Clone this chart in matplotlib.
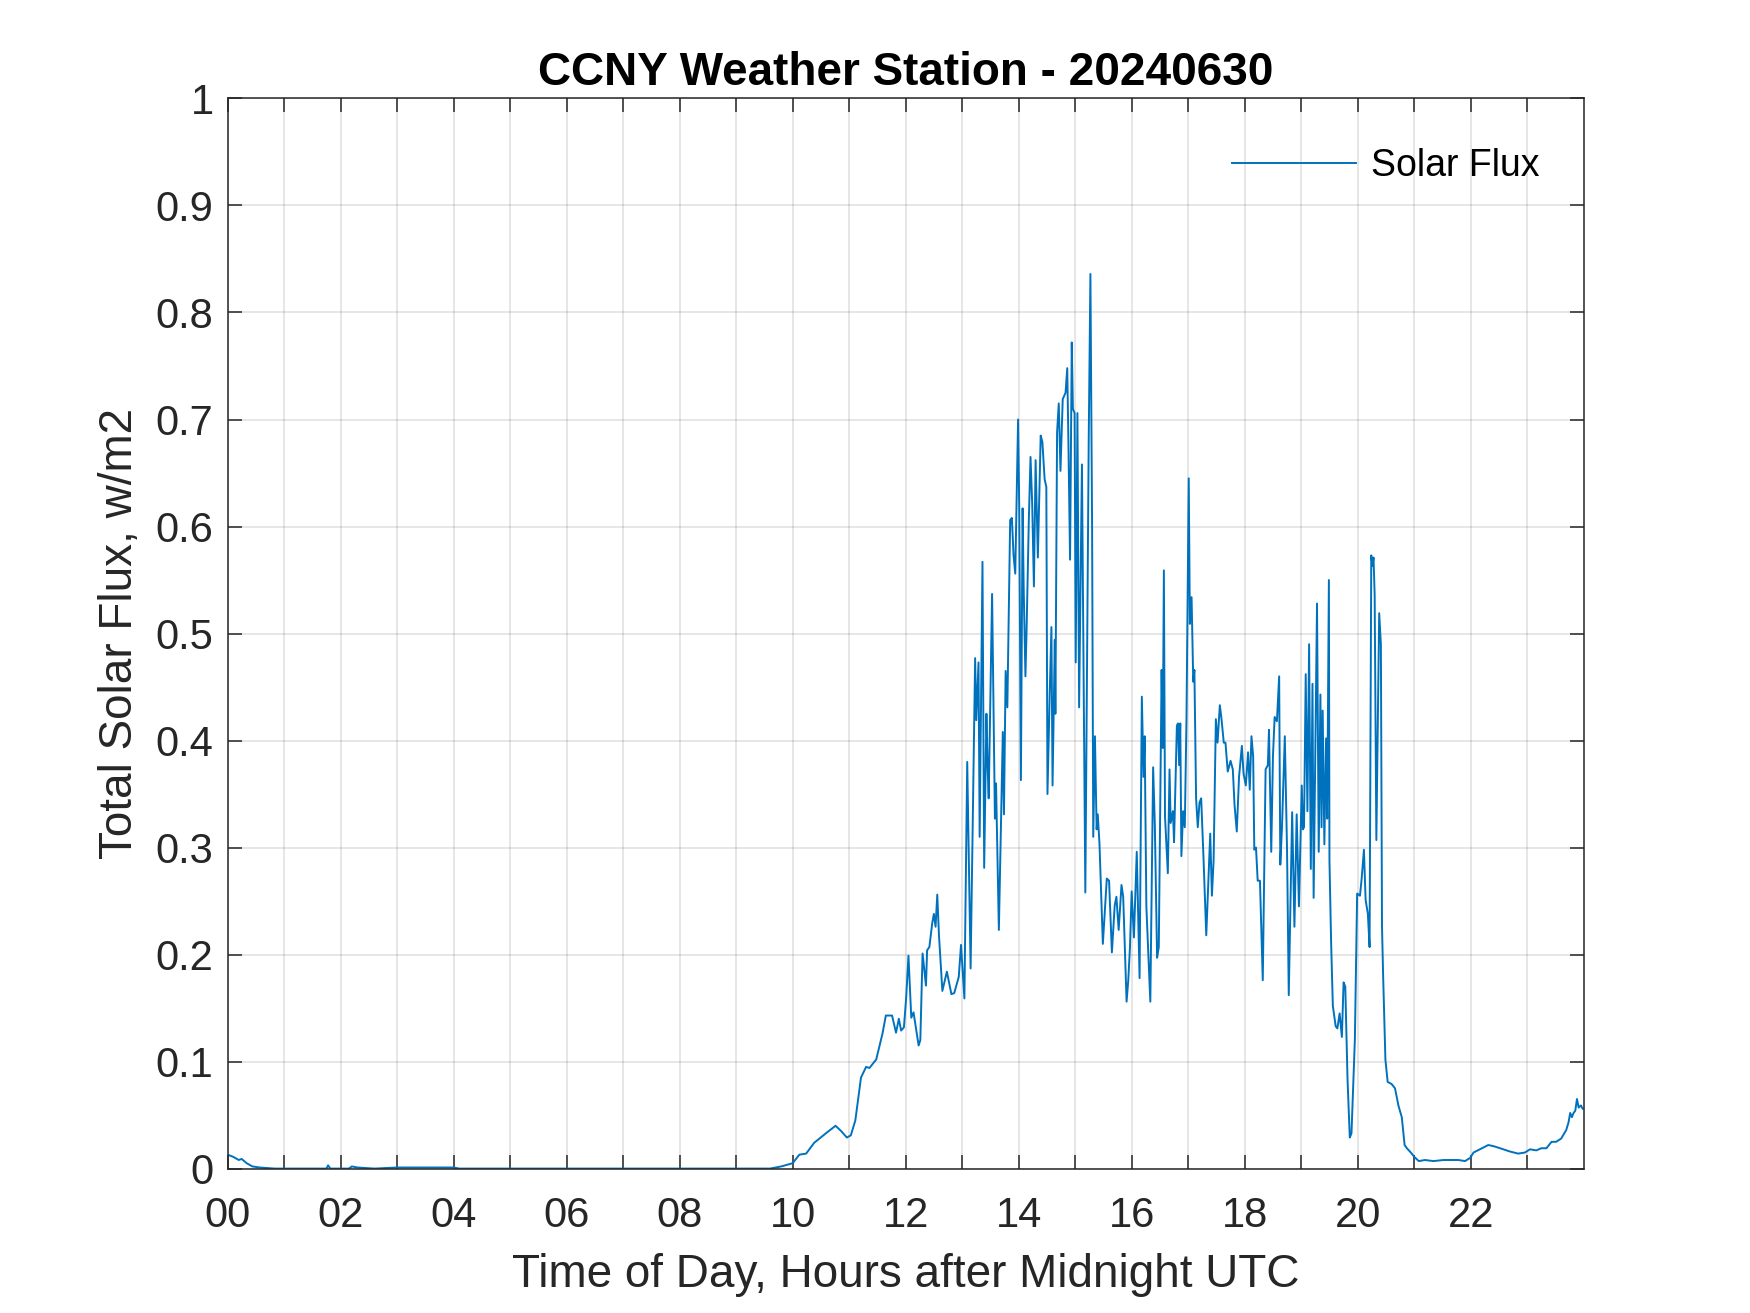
import numpy as np
import matplotlib.pyplot as plt

plt.rcParams['font.family'] = ['Liberation Sans', 'DejaVu Sans']

# hours after midnight UTC
hours = [
    0.00, 0.10, 0.20, 0.25, 0.34, 0.44, 0.57, 0.84, 1.50, 1.75, 1.78, 1.82,
    2.15, 2.20, 2.30, 2.60, 3.00, 4.00, 4.10, 9.40, 9.60, 9.80,
    10.00, 10.12, 10.24, 10.38, 10.59, 10.76, 10.86, 10.96, 11.03, 11.11,
    11.21, 11.30, 11.36, 11.48, 11.59, 11.65, 11.76, 11.83, 11.88, 11.92,
    11.97, 12.01, 12.05, 12.10, 12.14, 12.23, 12.26, 12.30, 12.36, 12.38,
    12.42, 12.47, 12.50, 12.53, 12.56, 12.59, 12.65, 12.73, 12.81, 12.86,
    12.94, 12.98, 13.04, 13.09, 13.15, 13.23, 13.25, 13.29, 13.31, 13.36,
    13.39, 13.43, 13.45, 13.47, 13.53, 13.58, 13.60, 13.65, 13.72, 13.74,
    13.77, 13.80, 13.85, 13.88, 13.91, 13.94, 13.99, 14.01, 14.04, 14.07,
    14.09, 14.12, 14.14, 14.18, 14.21, 14.24, 14.27, 14.30, 14.34, 14.39,
    14.42, 14.46, 14.49, 14.51, 14.55, 14.58, 14.60, 14.64, 14.65, 14.68,
    14.71, 14.74, 14.78, 14.83, 14.86, 14.88, 14.91, 14.94, 14.96, 14.99,
    15.01, 15.04, 15.07, 15.12, 15.18, 15.24, 15.27, 15.30, 15.32, 15.35,
    15.38, 15.40, 15.43, 15.49, 15.56, 15.60, 15.65, 15.70, 15.73, 15.77,
    15.82, 15.85, 15.91, 15.94, 15.97, 16.00, 16.04, 16.09, 16.14, 16.18,
    16.21, 16.23, 16.26, 16.33, 16.38, 16.41, 16.45, 16.48, 16.53, 16.55,
    16.57, 16.59, 16.64, 16.67, 16.69, 16.73, 16.75, 16.80, 16.82, 16.84,
    16.86, 16.88, 16.91, 16.94, 16.97, 17.01, 17.03, 17.06, 17.09, 17.11,
    17.14, 17.17, 17.20, 17.23, 17.27, 17.32, 17.39, 17.42, 17.45, 17.49,
    17.52, 17.56, 17.59, 17.63, 17.66, 17.70, 17.75, 17.79, 17.82, 17.86,
    17.90, 17.95, 17.98, 18.02, 18.06, 18.09, 18.12, 18.15, 18.17, 18.20,
    18.23, 18.27, 18.32, 18.37, 18.41, 18.43, 18.47, 18.50, 18.53, 18.57,
    18.61, 18.63, 18.66, 18.71, 18.75, 18.78, 18.80, 18.84, 18.88, 18.92,
    18.96, 19.01, 19.03, 19.05, 19.08, 19.11, 19.14, 19.17, 19.20, 19.22,
    19.28, 19.31, 19.34, 19.36, 19.38, 19.41, 19.44, 19.46, 19.49, 19.50,
    19.53, 19.56, 19.61, 19.64, 19.68, 19.72, 19.75, 19.78, 19.82, 19.86,
    19.89, 19.95, 19.99, 20.04, 20.07, 20.11, 20.14, 20.18, 20.21, 20.24,
    20.26, 20.28, 20.30, 20.33, 20.38, 20.41, 20.43, 20.45, 20.49, 20.53,
    20.60, 20.66, 20.72, 20.78, 20.83, 20.87, 20.94, 21.00, 21.08, 21.19,
    21.34, 21.52, 21.78, 21.90, 21.99, 22.05, 22.16, 22.31, 22.40, 22.52,
    22.69, 22.84, 22.96, 23.05, 23.16, 23.25, 23.34, 23.43, 23.51, 23.60,
    23.69, 23.73, 23.76, 23.79, 23.82, 23.85, 23.88, 23.91, 23.95, 23.98,
]

# total solar flux values at those times
flux = [
    0.013, 0.011, 0.008, 0.009, 0.005, 0.002, 0.001, 0.000, 0.000, 0.000, 0.003, 0.000,
    0.000, 0.002, 0.001, 0.000, 0.001, 0.001, 0.000, 0.000, 0.000, 0.002,
    0.005, 0.013, 0.014, 0.024, 0.033, 0.040, 0.035, 0.029, 0.031, 0.045,
    0.085, 0.095, 0.094, 0.102, 0.126, 0.143, 0.143, 0.127, 0.140, 0.129,
    0.132, 0.160, 0.199, 0.141, 0.146, 0.115, 0.120, 0.201, 0.171, 0.204,
    0.207, 0.229, 0.238, 0.226, 0.256, 0.218, 0.166, 0.184, 0.163, 0.164,
    0.179, 0.209, 0.159, 0.380, 0.187, 0.477, 0.419, 0.473, 0.310, 0.567,
    0.281, 0.425, 0.377, 0.346, 0.537, 0.327, 0.360, 0.223, 0.408, 0.331,
    0.465, 0.431, 0.606, 0.608, 0.573, 0.556, 0.700, 0.619, 0.363, 0.617,
    0.540, 0.460, 0.502, 0.606, 0.665, 0.621, 0.544, 0.662, 0.571, 0.685,
    0.679, 0.644, 0.637, 0.350, 0.444, 0.506, 0.358, 0.494, 0.425, 0.688,
    0.715, 0.652, 0.719, 0.725, 0.748, 0.681, 0.569, 0.772, 0.710, 0.706,
    0.473, 0.706, 0.431, 0.658, 0.258, 0.681, 0.836, 0.598, 0.310, 0.404,
    0.317, 0.331, 0.304, 0.210, 0.271, 0.269, 0.202, 0.246, 0.254, 0.223,
    0.265, 0.254, 0.156, 0.176, 0.207, 0.259, 0.216, 0.296, 0.178, 0.441,
    0.366, 0.404, 0.245, 0.156, 0.375, 0.321, 0.197, 0.207, 0.466, 0.393,
    0.559, 0.329, 0.276, 0.373, 0.323, 0.334, 0.305, 0.414, 0.416, 0.377,
    0.416, 0.292, 0.334, 0.319, 0.420, 0.645, 0.509, 0.534, 0.455, 0.466,
    0.346, 0.319, 0.342, 0.346, 0.292, 0.218, 0.313, 0.255, 0.288, 0.420,
    0.398, 0.433, 0.420, 0.398, 0.398, 0.371, 0.381, 0.373, 0.340, 0.315,
    0.366, 0.395, 0.369, 0.358, 0.389, 0.354, 0.404, 0.385, 0.298, 0.300,
    0.269, 0.269, 0.176, 0.373, 0.377, 0.410, 0.296, 0.385, 0.422, 0.418,
    0.460, 0.284, 0.319, 0.404, 0.296, 0.162, 0.218, 0.333, 0.226, 0.331,
    0.245, 0.358, 0.317, 0.319, 0.462, 0.334, 0.490, 0.280, 0.453, 0.253,
    0.528, 0.296, 0.443, 0.319, 0.428, 0.303, 0.402, 0.327, 0.550, 0.288,
    0.210, 0.152, 0.133, 0.131, 0.145, 0.123, 0.174, 0.170, 0.083, 0.029,
    0.033, 0.121, 0.257, 0.255, 0.271, 0.298, 0.251, 0.238, 0.207, 0.573,
    0.563, 0.571, 0.536, 0.307, 0.519, 0.490, 0.226, 0.180, 0.102, 0.081,
    0.079, 0.075, 0.059, 0.048, 0.022, 0.019, 0.015, 0.011, 0.007, 0.008,
    0.007, 0.008, 0.008, 0.007, 0.010, 0.015, 0.018, 0.022, 0.021, 0.019,
    0.016, 0.014, 0.015, 0.018, 0.017, 0.019, 0.019, 0.025, 0.025, 0.028,
    0.036, 0.043, 0.052, 0.048, 0.052, 0.054, 0.065, 0.057, 0.059, 0.056,
]

x_ticks = list(range(24))
x_labels = ['%02d' % h if h % 2 == 0 else '' for h in x_ticks]
y_ticks = [0, 0.1, 0.2, 0.3, 0.4, 0.5, 0.6, 0.7, 0.8, 0.9, 1]
y_labels = ['0', '0.1', '0.2', '0.3', '0.4', '0.5', '0.6', '0.7', '0.8', '0.9', '1']

axis_col = '#262626'

fig = plt.figure(figsize=(17.5, 13.13), dpi=100)
ax = fig.add_axes([0.13, 0.11, 0.775, 0.815])

ax.plot(hours, flux, color='#0072BD', linewidth=1.4, label='Solar Flux')

ax.set_xlim(0, 24)
ax.set_ylim(0, 1)
ax.set_xticks(x_ticks)
ax.set_xticklabels(x_labels)
ax.set_yticks(y_ticks)
ax.set_yticklabels(y_labels)

ax.grid(True, color=axis_col, alpha=0.15, linewidth=1.1)
ax.set_axisbelow(True)
for s in ax.spines.values():
    s.set_color(axis_col)
    s.set_linewidth(1.1)
ax.tick_params(axis='both', direction='in', length=10, width=1.1, color=axis_col,
               labelcolor=axis_col, labelsize=30, top=True, right=True)
ax.tick_params(axis='x', pad=20)
ax.tick_params(axis='y', pad=10)

ax.set_title('CCNY Weather Station - 20240630', fontsize=33, fontweight='bold', pad=10)
ax.set_xlabel('Time of Day, Hours after Midnight UTC', fontsize=33, color=axis_col, labelpad=12)
ax.set_ylabel('Total Solar Flux, w/m2', fontsize=33, color=axis_col, labelpad=10)

ax.legend(loc='upper right', bbox_to_anchor=(0.992, 0.985), frameon=False,
          fontsize=27, handlelength=3.3, handletextpad=0.4)

fig.savefig('out.png', dpi=100)
